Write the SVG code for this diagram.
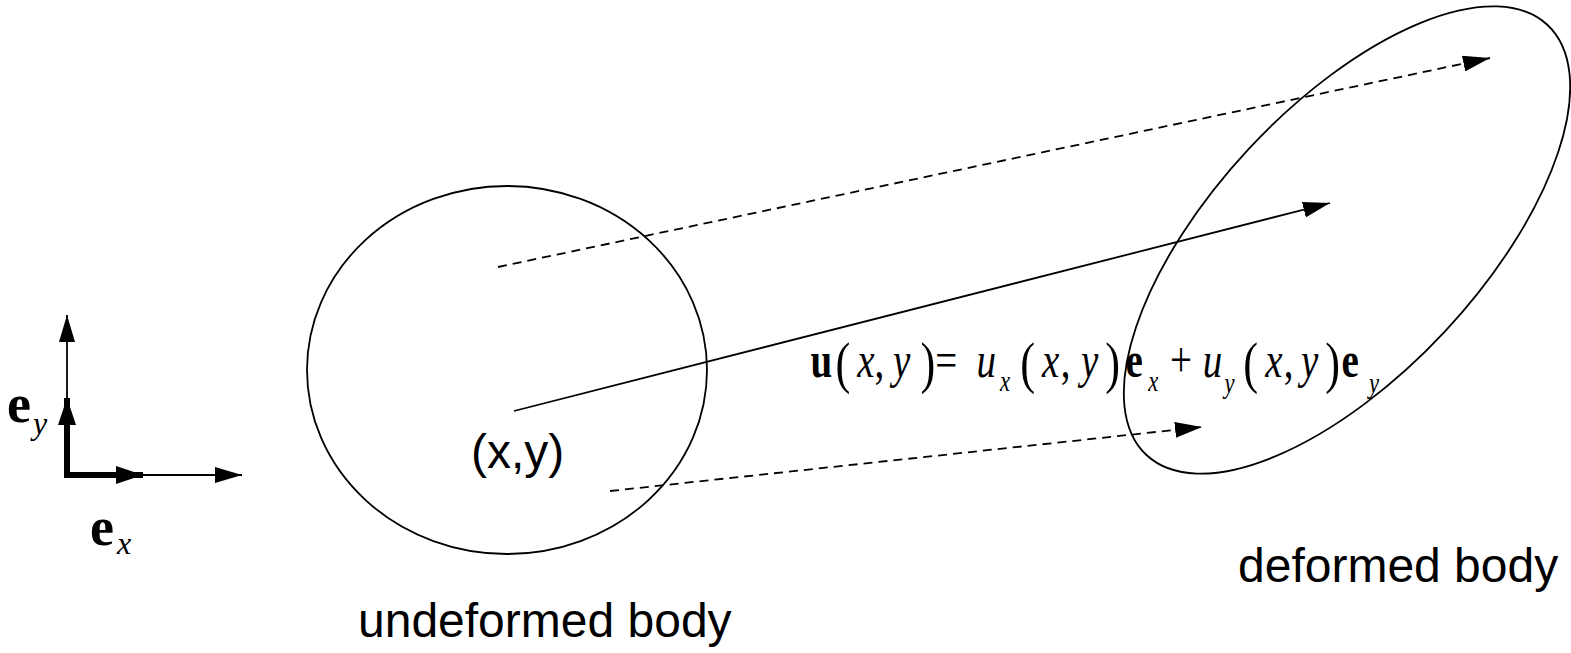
<svg xmlns="http://www.w3.org/2000/svg" width="1571" height="653" viewBox="0 0 1571 653">
<style>
.ln{fill:none;stroke:#000;stroke-width:1.8}
.dash{stroke-dasharray:9 6}
.thick{fill:none;stroke:#000;stroke-width:6}
.sans{font-family:"Liberation Sans",Arial,sans-serif;font-size:48px;fill:#000}
.m{font-family:"Liberation Serif","Times New Roman",serif;fill:#000}
.b{font-weight:bold}
.i{font-style:italic}
.p{font-size:57px}
.s{font-size:29px;font-style:italic}
</style>
<defs>
<marker id="ah" markerUnits="userSpaceOnUse" markerWidth="28" markerHeight="16" refX="27" refY="8" orient="auto">
<path d="M0,0 L27,8 L0,16 z" fill="#000"/>
</marker>
<marker id="ahb" markerUnits="userSpaceOnUse" markerWidth="28" markerHeight="18" refX="27" refY="9" orient="auto">
<path d="M0,0 L27,9 L0,18 z" fill="#000"/>
</marker>
</defs>
<g id="undeformed">
<ellipse class="ln" cx="507" cy="370" rx="200" ry="184"/>
<text class="sans" x="358" y="637">undeformed body</text>
</g>
<g id="point">
<text class="sans" x="471" y="468">(x,y)</text>
</g>
<g id="deformed">
<ellipse class="ln" cx="1347" cy="240" rx="294" ry="134" transform="rotate(-47 1347 240)"/>
<text class="sans" x="1238" y="582">deformed body</text>
</g>
<g id="axes">
<line class="ln" x1="67" y1="475" x2="67" y2="315" marker-end="url(#ah)"/>
<line class="ln" x1="67" y1="475" x2="242" y2="475" marker-end="url(#ah)"/>
<line class="thick" x1="67" y1="478" x2="67" y2="398" marker-end="url(#ahb)"/>
<line class="thick" x1="64" y1="475" x2="143" y2="475" marker-end="url(#ahb)"/>
<text class="m" y="422"><tspan class="b" x="7" font-size="54">e</tspan><tspan class="i" x="33" y="434" font-size="32">y</tspan></text>
<text class="m" y="545"><tspan class="b" x="90" font-size="54">e</tspan><tspan class="i" x="117" y="554" font-size="32">x</tspan></text>
</g>
<g id="connectors">
<line class="ln" x1="514" y1="411" x2="1330" y2="203" marker-end="url(#ah)"/>
<line class="ln dash" x1="498" y1="267" x2="1490" y2="58" marker-end="url(#ah)"/>
<line class="ln dash" x1="610" y1="491" x2="1202" y2="427" marker-end="url(#ah)"/>
</g>
<g id="equation" transform="scale(0.78 1)">
<text class="m" font-size="50" y="377"><tspan class="b" x="1039">u</tspan><tspan class="p" x="1071" y="382">(</tspan><tspan class="i" x="1099" y="377">x</tspan><tspan x="1121">,</tspan><tspan class="i" x="1145">y</tspan><tspan class="p" x="1180" y="382">)</tspan><tspan x="1199" y="377">=</tspan><tspan class="i" x="1252">u</tspan><tspan class="s" x="1282" y="391">x</tspan><tspan class="p" x="1308" y="382">(</tspan><tspan class="i" x="1336" y="377">x</tspan><tspan x="1360">,</tspan><tspan class="i" x="1386">y</tspan><tspan class="p" x="1417" y="382">)</tspan><tspan class="b" x="1443" y="377">e</tspan><tspan class="s" x="1472" y="391">x</tspan><tspan x="1500" y="377">+</tspan><tspan class="i" x="1542">u</tspan><tspan class="s" x="1570" y="393">y</tspan><tspan class="p" x="1594" y="382">(</tspan><tspan class="i" x="1622" y="377">x</tspan><tspan x="1646">,</tspan><tspan class="i" x="1668">y</tspan><tspan class="p" x="1699" y="382">)</tspan><tspan class="b" x="1720" y="377">e</tspan><tspan class="s" x="1755" y="393">y</tspan></text>
</g>
</svg>
